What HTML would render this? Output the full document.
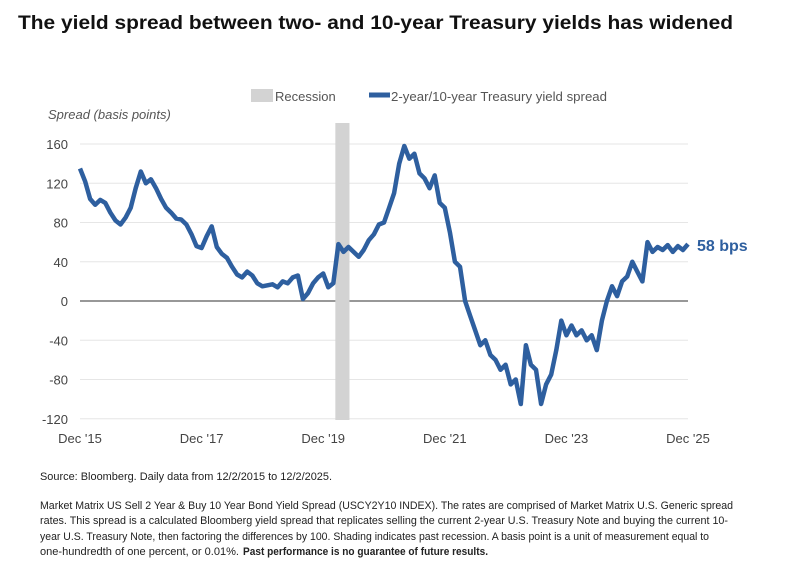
<!DOCTYPE html>
<html><head><meta charset="utf-8"><style>
html,body{margin:0;padding:0;background:#fff;}
svg{display:block;font-family:"Liberation Sans",sans-serif;}
</style></head><body>
<svg id="chart" width="789" height="577" viewBox="0 0 789 577">
<text x="18" y="29" font-size="19.5" font-weight="bold" fill="#111" textLength="715" lengthAdjust="spacingAndGlyphs">The yield spread between two- and 10-year Treasury yields has widened</text>
<g>
<rect x="251" y="89" width="22" height="13" fill="#d3d3d3"/>
<text x="275" y="101" font-size="13" fill="#555">Recession</text>
<rect x="369" y="92.5" width="21" height="5" fill="#2e5f9f"/>
<text x="391" y="101" font-size="13" fill="#555" textLength="216" lengthAdjust="spacingAndGlyphs">2-year/10-year Treasury yield spread</text>
</g>
<text x="48" y="119" font-size="13" font-style="italic" fill="#555">Spread (basis points)</text>
<g id="grid"></g><g id="rec"></g><g id="yt"></g><g id="xt"></g><g id="ln"></g>
<text x="697" y="251" font-size="16" font-weight="bold" fill="#2e5f9f">58 bps</text>
<text x="40" y="480" font-size="11" fill="#222" textLength="292" lengthAdjust="spacingAndGlyphs">Source: Bloomberg. Daily data from 12/2/2015 to 12/2/2025.</text>
<g font-size="11" fill="#222">
<text x="40" y="509" textLength="693" lengthAdjust="spacingAndGlyphs">Market Matrix US Sell 2 Year &amp; Buy 10 Year Bond Yield Spread (USCY2Y10 INDEX). The rates are comprised of Market Matrix U.S. Generic spread</text>
<text x="40" y="524" textLength="688" lengthAdjust="spacingAndGlyphs">rates. This spread is a calculated Bloomberg yield spread that replicates selling the current 2-year U.S. Treasury Note and buying the current 10-</text>
<text x="40" y="540" textLength="669" lengthAdjust="spacingAndGlyphs">year U.S. Treasury Note, then factoring the differences by 100. Shading indicates past recession. A basis point is a unit of measurement equal to</text>
<text x="40" y="555" textLength="199" lengthAdjust="spacingAndGlyphs">one-hundredth of one percent, or 0.01%.</text>
<text x="243" y="555" font-weight="bold" textLength="245" lengthAdjust="spacingAndGlyphs">Past performance is no guarantee of future results.</text>
</g>
</svg>
<script>
const yTicks=[160,120,80,40,0,-40,-80,-120];
const xTickLabels=["Dec '15","Dec '17","Dec '19","Dec '21","Dec '23","Dec '25"];
const xTickMonths=[0,24,48,72,96,120];
const recession=[50,52];
const spread=[135,122,104,98,103,100,90,82,78,85,95,115,
132,120,124,115,104,95,90,84,83,78,68,56,
54,66,76,55,48,44,35,27,24,30,26,18,
15,16,17,14,20,18,24,26,2,8,18,24,
28,14,18,58,50,55,50,45,52,62,68,78,
80,95,110,140,158,145,150,130,125,115,128,100,
95,70,40,35,0,-15,-30,-45,-40,-55,-60,-70,
-65,-85,-80,-105,-45,-65,-70,-105,-85,-75,-50,-20,
-35,-25,-35,-30,-40,-35,-50,-20,0,15,5,20,
25,40,30,20,60,50,55,52,57,50,56,52,58];
const NS="http://www.w3.org/2000/svg";
const X0=80,X1=688,Y0=301,PX=157/160;
const xs=m=>X0+m*(X1-X0)/120;
const ys=v=>Y0-v*PX;
function mk(t,a,p){const e=document.createElementNS(NS,t);for(const k in a)e.setAttribute(k,a[k]);document.getElementById(p).appendChild(e);return e;}
yTicks.forEach(v=>{
 const l=mk('line',{x1:X0,x2:X1,y1:ys(v),y2:ys(v),stroke:v===0?'#777':'#e6e6e6','stroke-width':v===0?1.6:1},'grid');
 
 
 const t=mk('text',{x:68,y:ys(v)+5,'text-anchor':'end','font-size':13,fill:'#444'},'yt');
 t.textContent=v;
 
 
});
const r=mk('rect',{x:xs(recession[0])+2,y:123,width:xs(recession[1])-xs(recession[0])+4,height:297,fill:'#d3d3d3'},'rec');


xTickMonths.forEach((m,i)=>{
 const t=mk('text',{x:xs(m),y:443,'text-anchor':'middle','font-size':13,fill:'#444'},'xt');
 t.textContent=xTickLabels[i];
 
 
});
const d=spread.map((v,i)=>(i?'L':'M')+xs(i).toFixed(1)+','+ys(v).toFixed(1)).join('');
const p=mk('path',{d:d,fill:'none',stroke:'#2e5f9f','stroke-width':4.5,'stroke-linejoin':'round'},'ln');


</script>
</body></html>
